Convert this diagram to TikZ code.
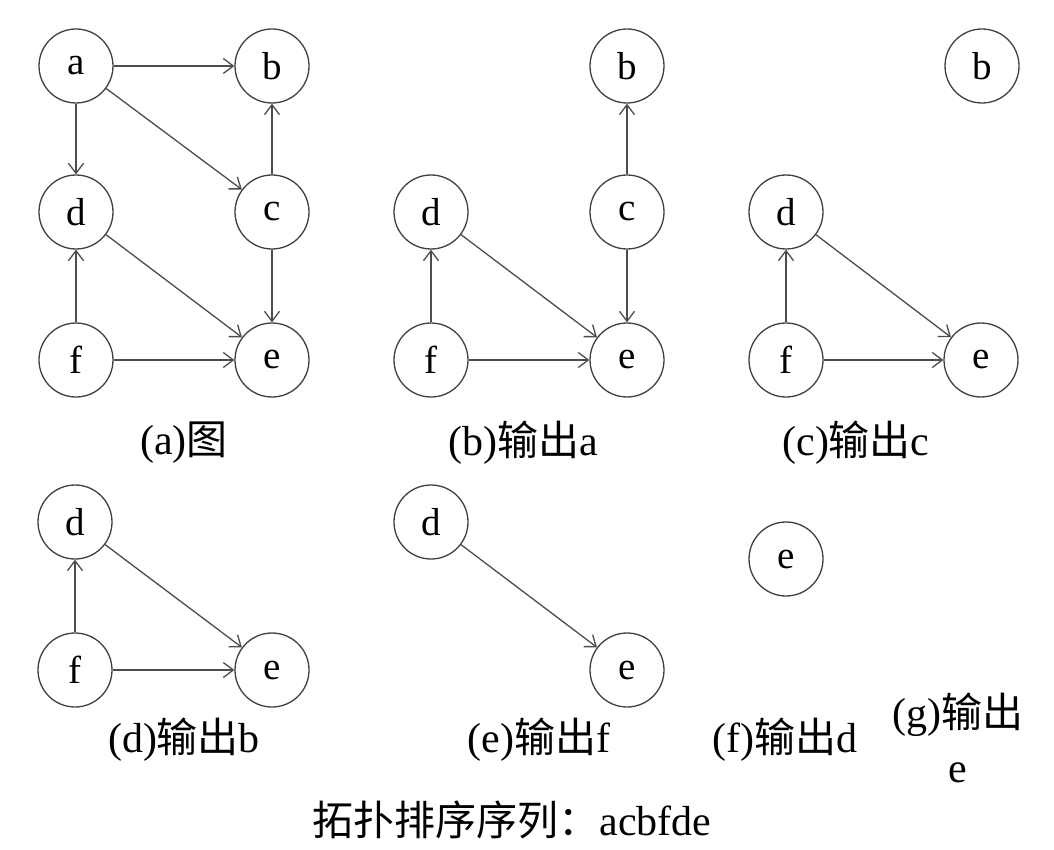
\documentclass[tikz,border=0pt]{standalone}
\usepackage{fontspec}
\setmainfont{Liberation Serif}
\newfontfamily\cjk{Noto Sans CJK SC}
\usetikzlibrary{arrows.meta}
\newcommand{\zh}[1]{{\cjk\fontsize{41}{44}\selectfont #1}}
\begin{document}
\begin{tikzpicture}[x=1pt,y=-1pt,
  vtx/.style={circle,draw=black!75,line width=1.3pt,minimum size=74pt,inner sep=0pt,font=\fontsize{39}{40}\selectfont},
  edge/.style={draw=black!70,line width=1.3pt,-{Straight Barb[length=10pt,width=15pt,line width=1.3pt]}},
  captxt/.style={font=\fontsize{42}{55}\selectfont,inner sep=0pt,align=center}]
\useasboundingbox (0,0) rectangle (1054,850);
% (a)
\node[vtx] (aa) at (76,66) {a};
\node[vtx] (ab) at (272,66) {b};
\node[vtx] (ad) at (76,212) {d};
\node[vtx] (ac) at (272,212) {c};
\node[vtx] (af) at (76,360) {f};
\node[vtx] (ae) at (272,360) {e};
\draw[edge] (aa) -- (ab);
\draw[edge] (aa) -- (ad);
\draw[edge] (aa) -- (ac);
\draw[edge] (ac) -- (ab);
\draw[edge] (ac) -- (ae);
\draw[edge] (ad) -- (ae);
\draw[edge] (af) -- (ad);
\draw[edge] (af) -- (ae);
\node[captxt] (capa) at (184,443) {(a)\zh{图}};
% (b)
\node[vtx] (bb) at (627,66) {b};
\node[vtx] (bd) at (431,212) {d};
\node[vtx] (bc) at (627,212) {c};
\node[vtx] (bf) at (431,360) {f};
\node[vtx] (be) at (627,360) {e};
\draw[edge] (bc) -- (bb);
\draw[edge] (bc) -- (be);
\draw[edge] (bd) -- (be);
\draw[edge] (bf) -- (bd);
\draw[edge] (bf) -- (be);
\node[captxt] (capb) at (523,443) {(b)\zh{输出}a};
% (c)
\node[vtx] (cb) at (982,66) {b};
\node[vtx] (cd) at (786,212) {d};
\node[vtx] (cf) at (786,360) {f};
\node[vtx] (ce) at (981,360) {e};
\draw[edge] (cd) -- (ce);
\draw[edge] (cf) -- (cd);
\draw[edge] (cf) -- (ce);
\node[captxt] (capc) at (856,443) {(c)\zh{输出}c};
% (d)
\node[vtx] (dd) at (75,522) {d};
\node[vtx] (df) at (75,670) {f};
\node[vtx] (de) at (272,670) {e};
\draw[edge] (dd) -- (de);
\draw[edge] (df) -- (dd);
\draw[edge] (df) -- (de);
\node[captxt] (capd) at (184,740) {(d)\zh{输出}b};
% (e)
\node[vtx] (ed) at (431,522) {d};
\node[vtx] (ee) at (627,670) {e};
\draw[edge] (ed) -- (ee);
\node[captxt] (cape) at (539,740) {(e)\zh{输出}f};
% (f)
\node[vtx] (fe) at (786,559) {e};
\node[captxt] (capf) at (785,740) {(f)\zh{输出}d};
% (g)
\node[captxt] (capg) at (958,738) {(g)\zh{输出}\\e};
% bottom
\node[captxt] (seq) at (512,820) {\zh{拓扑排序序列：}acbfde};
\end{tikzpicture}
\end{document}
